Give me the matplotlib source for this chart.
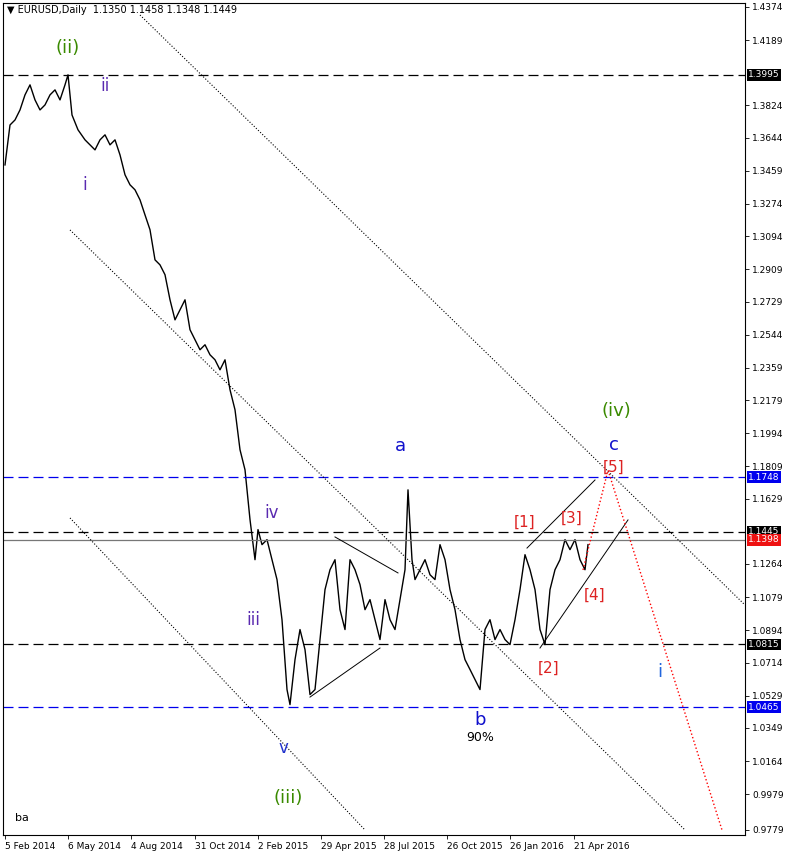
import matplotlib
matplotlib.use('Agg')
import matplotlib.pyplot as plt

# bar index (days from 5 Feb 2014) and close price
bars = [0, 5, 10, 15, 20, 25, 30, 35, 40, 45, 50, 55, 60, 63, 67, 73, 80, 85, 90, 95,
        100, 105, 110, 115, 120, 125, 130, 135, 140, 145, 150, 155, 160, 165, 170, 175,
        180, 185, 190, 195, 200, 205, 210, 215, 220, 225, 230, 235, 240, 245, 250, 253,
        257, 262, 267, 272, 277, 282, 285, 290, 295, 300, 305, 310, 315, 320, 325, 330,
        335, 340, 345, 350, 355, 360, 365, 370, 375, 380, 385, 390, 395, 400, 403, 407,
        410, 415, 420, 425, 430, 435, 440, 445, 450, 455, 460, 465, 470, 475, 480, 485,
        490, 495, 500, 505, 510, 515, 520, 525, 530, 535, 540, 545, 550, 555, 560, 565,
        570, 575, 580, 583]
close = [1.3492, 1.3715, 1.3743, 1.3799, 1.3883, 1.3939, 1.3855, 1.3799, 1.3827, 1.3883,
         1.3911, 1.3855, 1.3939, 1.3995, 1.3771, 1.3688, 1.3632, 1.3604, 1.3576, 1.3632,
         1.3660, 1.3604, 1.3632, 1.3548, 1.3437, 1.3381, 1.3353, 1.3297, 1.3213, 1.3130,
         1.2962, 1.2934, 1.2879, 1.2739, 1.2627, 1.2683, 1.2739, 1.2572, 1.2516, 1.2460,
         1.2488, 1.2432, 1.2404, 1.2348, 1.2404, 1.2237, 1.2125, 1.1902, 1.1790, 1.1512,
         1.1288, 1.1456, 1.1372, 1.1400, 1.1288, 1.1177, 1.0953, 1.0563, 1.0479, 1.0730,
         1.0898, 1.0786, 1.0535, 1.0563, 1.0842, 1.1121, 1.1232, 1.1288, 1.1009, 1.0898,
         1.1288, 1.1232, 1.1149, 1.1009, 1.1065, 1.0953, 1.0842, 1.1065, 1.0953, 1.0898,
         1.1065, 1.1232, 1.1678, 1.1288, 1.1177, 1.1232, 1.1288, 1.1204, 1.1177, 1.1372,
         1.1288, 1.1121, 1.1009, 1.0842, 1.0730, 1.0675, 1.0619, 1.0563, 1.0898, 1.0953,
         1.0842, 1.0898, 1.0842, 1.0814, 1.0953, 1.1121, 1.1316, 1.1232, 1.1121, 1.0898,
         1.0814, 1.1121, 1.1232, 1.1288, 1.1400, 1.1344, 1.1400, 1.1288, 1.1232, 1.1372]

date_ticks = [0, 63, 126, 190, 253, 316, 379, 442, 505, 569]
date_labels = ['5 Feb 2014', '6 May 2014', '4 Aug 2014', '31 Oct 2014', '2 Feb 2015',
               '29 Apr 2015', '28 Jul 2015', '26 Oct 2015', '26 Jan 2016', '21 Apr 2016']
price_ticks = [1.4374, 1.4189, 1.3824, 1.3644, 1.3459, 1.3274, 1.3094, 1.2909, 1.2729,
               1.2544, 1.2359, 1.2179, 1.1994, 1.1809, 1.1629, 1.1264, 1.1079, 1.0894,
               1.0714, 1.0529, 1.0349, 1.0164, 0.9979, 0.9779]
levels_black = [1.3995, 1.1445, 1.0815]
levels_blue = [1.1748, 1.0465]
current = 1.1398

fig = plt.figure(figsize=(7.86, 8.56), dpi=100)
ax = fig.add_axes([3/786, 1 - 835/856, 742/786, 832/856])
ax.set_xlim(-2, 740)
ax.set_ylim(0.9751, 1.4396)

ax.plot(bars, close, color='black', lw=1.0)

for lv in levels_black:
    ax.axhline(lv, color='black', ls=(0, (8, 4)), lw=0.9)
for lv in levels_blue:
    ax.axhline(lv, color='#0000ee', ls=(0, (8, 4)), lw=0.9)
ax.axhline(current, color='#777777', lw=0.9)

# channel lines
ax.plot([135, 740], [1.4329, 1.1035], color='black', ls=':', lw=0.8)
ax.plot([65, 680], [1.3129, 0.9779], color='black', ls=':', lw=0.8)
ax.plot([65, 360], [1.1521, 0.9779], color='black', ls=':', lw=0.8)
ax.plot([522, 590], [1.1353, 1.1733], color='black', lw=0.7)
ax.plot([535, 623], [1.0795, 1.1510], color='black', lw=0.7)
ax.plot([305, 375], [1.0521, 1.0795], color='black', lw=0.7)
ax.plot([330, 393], [1.1415, 1.1214], color='black', lw=0.7)
ax.plot([578, 603, 717], [1.1231, 1.1788, 0.9779], color='red', ls=':', lw=1.0)

labels = [
    ('(ii)', 63, 1.4145, '#3a8a00', 13), ('ii', 100, 1.3933, '#5a2ab0', 12),
    ('i', 80, 1.3380, '#5a2ab0', 12), ('iv', 267, 1.1549, '#5a2ab0', 12),
    ('iii', 248, 1.0952, '#5a2ab0', 12), ('v', 278, 1.0237, '#2233cc', 12),
    ('(iii)', 283, 0.9958, '#3a8a00', 13), ('a', 395, 1.1923, '#1010cc', 13),
    ('b', 475, 1.0393, '#1010cc', 13), ('90%', 475, 1.0298, 'black', 9),
    ('[1]', 520, 1.1499, '#dd2222', 11), ('[2]', 544, 1.0683, '#dd2222', 11),
    ('[3]', 567, 1.1521, '#dd2222', 11), ('[4]', 590, 1.1091, '#dd2222', 11),
    ('[5]', 609, 1.1806, '#dd2222', 11), ('c', 609, 1.1928, '#1010cc', 13),
    ('(iv)', 611, 1.2118, '#3a8a00', 13), ('i', 655, 1.0661, '#2266dd', 13),
    ('ba', 17, 0.9846, 'black', 8),
]
for t, x, y, c, s in labels:
    ax.text(x, y, t, color=c, fontsize=s, ha='center', va='center')

ax.text(0.005, 0.997, '\u25bc EURUSD,Daily  1.1350 1.1458 1.1348 1.1449', transform=ax.transAxes,
        fontsize=7, va='top', ha='left')

ax.yaxis.tick_right()
ax.set_yticks(price_ticks)
ax.set_yticklabels([f'{p:.4f}' for p in price_ticks], fontsize=6.5)
ax.set_xticks(date_ticks)
ax.set_xticklabels(date_labels, fontsize=6.5, ha='left')
ax.tick_params(length=3, width=0.6, pad=2)

boxes = [(1.3995, 'black'), (1.1748, '#0000ee'), (1.1445, 'black'),
         (1.0815, 'black'), (1.0465, '#0000ee')]
for p, c in boxes:
    ax.text(1.004, p, f'{p:.4f}', transform=ax.get_yaxis_transform(), fontsize=6.5,
            va='center', ha='left', color='white',
            bbox=dict(boxstyle='square,pad=0.15', fc=c, ec='none'))
ax.text(1.004, current, f'{current:.4f}', transform=ax.get_yaxis_transform(), fontsize=6.5,
        va='center', ha='left', color='white',
        bbox=dict(boxstyle='square,pad=0.15', fc='#ee1111', ec='none'))

fig.savefig('out.png', dpi=100)
